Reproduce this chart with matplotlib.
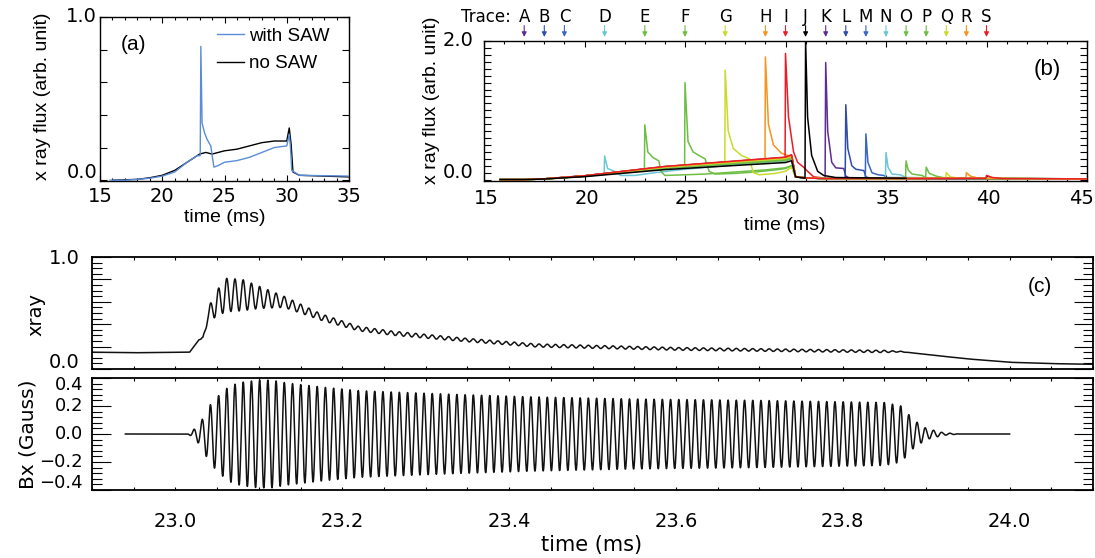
import numpy as np
import matplotlib
matplotlib.use("Agg")
import matplotlib.pyplot as plt
from matplotlib.ticker import MultipleLocator, NullFormatter
from matplotlib.transforms import ScaledTranslation

plt.rcParams['font.family'] = ['DejaVu Sans']

# ---------------- data: panel (a) ----------------
a_saw_t = [15.8, 17.0, 18.0, 19.0, 20.0, 21.0, 22.0, 22.8, 23.05, 23.1, 23.2, 23.4, 23.6, 23.9, 24.05,
           24.15, 24.5, 25.0, 26.0, 27.0, 28.0, 29.0, 30.0, 30.2, 30.3, 30.4, 31.0, 35.0]
a_saw_y = [0.0, 0.0, 0.005, 0.012, 0.025, 0.05, 0.11, 0.15, 0.15, 0.82, 0.35, 0.29, 0.25, 0.21, 0.13,
           0.08, 0.09, 0.11, 0.12, 0.14, 0.17, 0.20, 0.21, 0.28, 0.2, 0.06, 0.03, 0.025]
a_nosaw_t = [16.0, 18.0, 19.0, 20.0, 21.0, 22.0, 23.0, 23.5, 24.0, 25.0, 26.0, 27.0, 28.0, 29.0, 30.0,
             30.2, 30.35, 30.5, 31.0, 35.0]
a_nosaw_y = [0.0, 0.005, 0.015, 0.03, 0.06, 0.11, 0.16, 0.17, 0.16, 0.18, 0.19, 0.21, 0.23, 0.24, 0.24,
             0.32, 0.22, 0.05, 0.03, 0.02]

# ---------------- data: panel (b) ----------------
trace_names = list("ABCDEFGHIJKLMNOPQRS")
trace_times = [17, 18, 19, 21, 23, 25, 27, 29, 30, 31, 32, 33, 34, 35, 36, 37, 38, 39, 40]
trace_colors = ['#5E2D91', '#2E4DA7', '#3A66C4', '#6BC6D6', '#6DBE45', '#6DBE45', '#C9DB2A',
                '#F7941D', '#ED1C24', '#000000', '#5E2D91', '#2E4DA7', '#3A66C4', '#6BC6D6',
                '#6DBE45', '#6DBE45', '#C9DB2A', '#F7941D', '#ED1C24']
trace_ramp_scale = [1.0, 1.06, 1.1, 1.0, 1.0, 1.0, 1.0, 1.0, 1.08, 0.85, 1.04, 1.08, 1.1, 1.02,
                    0.95, 1.0, 1.05, 1.1, 1.12]
trace_end = [45, 45, 45, 45, 45, 45, 45, 45, 45, 36, 45, 45, 45, 45, 45, 45, 45, 45, 45]
b_xtick_vals = [15, 20, 25, 30, 35, 40, 45]

ramp_t = [15.8, 17, 18, 19, 20, 21, 22, 23, 24, 25, 26, 27, 28, 29, 30, 30.3]
ramp_y = [0.0, 0.0, 0.01, 0.03, 0.05, 0.08, 0.11, 0.14, 0.17, 0.19, 0.21, 0.23, 0.25, 0.27, 0.29, 0.32]
drop_t = [30.5, 31.0, 32.0]
drop_y = [0.04, 0.025, 0.015]
end_y = 0.01

spike_D = [(21.0, 0.34), (21.15, 0.16), (21.5, 0.12), (21.8, 0.06), (22.5, 0.06), (23.5, 0.10),
           (25.0, 0.15), (27.0, 0.20), (29.0, 0.25), (30.0, 0.27), (30.3, 0.30)]
spike_E = [(23.0, 0.79), (23.15, 0.40), (23.4, 0.32), (23.7, 0.27), (23.8, 0.12), (24.0, 0.06),
           (25.0, 0.07), (26.0, 0.08), (27.0, 0.10), (28.0, 0.12), (29.0, 0.14), (30.0, 0.17), (30.3, 0.20)]
spike_F = [(25.0, 1.40), (25.15, 0.55), (25.4, 0.40), (25.8, 0.33), (26.0, 0.30), (26.2, 0.12),
           (26.5, 0.08), (27.5, 0.09), (28.5, 0.11), (29.5, 0.14), (30.0, 0.16), (30.3, 0.20)]
spike_G = [(27.0, 1.58), (27.15, 0.70), (27.4, 0.45), (27.8, 0.35), (28.2, 0.30), (28.4, 0.10),
           (28.7, 0.07), (29.5, 0.09), (30.0, 0.12), (30.3, 0.18)]
spike_H = [(29.0, 1.77), (29.15, 0.80), (29.4, 0.50), (29.8, 0.38), (30.2, 0.34), (30.35, 0.30)]
spike_I = [(30.0, 1.82), (30.15, 0.90), (30.4, 0.40), (30.6, 0.25), (30.9, 0.18), (31.1, 0.12),
           (31.4, 0.04), (32.0, 0.02)]
spike_J = [(31.0, 2.0), (31.1, 0.90), (31.3, 0.35), (31.6, 0.12), (31.9, 0.06), (32.5, 0.03)]
spike_K = [(32.0, 1.69), (32.1, 0.70), (32.3, 0.25), (32.5, 0.17), (32.9, 0.16), (33.0, 0.05), (33.2, 0.02)]
spike_L = [(33.0, 1.08), (33.1, 0.45), (33.3, 0.20), (33.5, 0.15), (33.9, 0.13), (34.0, 0.04), (34.2, 0.02)]
spike_M = [(34.0, 0.66), (34.1, 0.25), (34.3, 0.10), (34.6, 0.07), (34.9, 0.06), (35.0, 0.03)]
spike_N = [(35.0, 0.39), (35.1, 0.18), (35.3, 0.08), (35.7, 0.07), (36.0, 0.03)]
spike_O = [(36.0, 0.27), (36.1, 0.14), (36.3, 0.08), (36.8, 0.06), (37.0, 0.02)]
spike_P = [(37.0, 0.18), (37.15, 0.09), (37.5, 0.05), (38.0, 0.02)]
spike_Q = [(38.0, 0.10), (38.2, 0.04), (38.6, 0.02)]
spike_R = [(39.0, 0.10), (39.2, 0.05), (39.6, 0.02)]
spike_S = [(40.0, 0.06), (40.3, 0.03), (40.8, 0.015)]
spikes = {'D': spike_D, 'E': spike_E, 'F': spike_F, 'G': spike_G, 'H': spike_H, 'I': spike_I,
          'J': spike_J, 'K': spike_K, 'L': spike_L, 'M': spike_M, 'N': spike_N, 'O': spike_O,
          'P': spike_P, 'Q': spike_Q, 'R': spike_R, 'S': spike_S}

# ---------------- data: panel (c) ----------------
osc_freq_khz = 101.5          # oscillation frequency
osc_t0 = 23.0
xray_mean_t = [22.9, 22.95, 23.0, 23.017, 23.022, 23.028, 23.033, 23.038, 23.045, 23.06, 23.08, 23.1,
               23.13, 23.176, 23.22, 23.26, 23.347, 23.433, 23.6, 23.75, 23.87, 23.9, 23.95, 24.0, 24.05, 24.1]
xray_mean_y = [0.15, 0.145, 0.15, 0.15, 0.2, 0.26, 0.27, 0.45, 0.55, 0.66, 0.66, 0.64,
               0.60, 0.46, 0.36, 0.32, 0.26, 0.21, 0.18, 0.165, 0.155, 0.13, 0.09, 0.06, 0.048, 0.042]
xray_amp_t = [22.9, 23.03, 23.035, 23.045, 23.06, 23.08, 23.1, 23.13, 23.17, 23.22, 23.35, 23.6, 23.85, 23.88, 24.1]
xray_amp_y = [0.0, 0.0, 0.03, 0.10, 0.15, 0.14, 0.10, 0.05, 0.03, 0.02, 0.015, 0.012, 0.01, 0.0, 0.0]

bx_env_t = [22.94, 23.015, 23.02, 23.03, 23.036, 23.043, 23.051, 23.06, 23.068, 23.08, 23.1, 23.115,
            23.133, 23.176, 23.22, 23.26, 23.35, 23.43, 23.55, 23.7, 23.85, 23.87, 23.885, 23.9, 23.92, 23.94, 24.0]
bx_env_amp = [0.0, 0.0, 0.02, 0.08, 0.15, 0.22, 0.27, 0.32, 0.35, 0.37, 0.385, 0.385,
              0.365, 0.335, 0.31, 0.30, 0.28, 0.265, 0.25, 0.24, 0.225, 0.20, 0.10, 0.04, 0.01, 0.0, 0.0]

# ---------------- figure ----------------
W, H = 1095, 558
fig = plt.figure(figsize=(W / 100, H / 100), dpi=100)


def px_axes(l, t, r, b):
    return fig.add_axes([l / W, 1 - b / H, (r - l) / W, (b - t) / H])


def ftext(x, y, s, **kw):
    fig.text(x / W, 1 - y / H, s, **kw)


def ylab(ax, vals, labels, pad_px, offs_px, size):
    for v, l, o in zip(vals, labels, offs_px):
        tr = ax.get_yaxis_transform() + ScaledTranslation(-pad_px / 100, o / 100, fig.dpi_scale_trans)
        ax.text(0, v, l, transform=tr, ha='right', va='center', fontsize=size)


def style(ax, lw):
    for s in ax.spines.values():
        s.set_linewidth(lw)
    ax.tick_params(which='both', direction='in', top=True, right=True, width=0.8)


# ---- panel (a)
axa = px_axes(100, 17, 349, 181)
style(axa, 1.0)
axa.plot(a_nosaw_t, a_nosaw_y, color='black', lw=1.0, label='no SAW', zorder=2)
axa.plot(a_saw_t, a_saw_y, color='#5A8DD8', lw=1.0, label='with SAW', zorder=3)
axa.set_xlim(15, 35)
axa.set_ylim(-0.005, 1.0)
axa.xaxis.set_major_locator(MultipleLocator(5))
axa.xaxis.set_minor_locator(MultipleLocator(1))
axa.yaxis.set_major_locator(MultipleLocator(0.2))
axa.yaxis.set_major_formatter(NullFormatter())
axa.tick_params(axis='x', which='major', length=4, labelsize=14, pad=4)
axa.tick_params(axis='x', which='minor', length=2)
axa.tick_params(axis='y', which='major', length=5)
ylab(axa, [0.0, 1.0], ['0.0', '1.0'], 3, [8, 0], 14)
h, l = axa.get_legend_handles_labels()
axa.legend(h[::-1], l[::-1], loc='upper left', bbox_to_anchor=(0.47, 0.935), frameon=False,
           prop={'family': 'Liberation Sans', 'size': 13.5}, handlelength=1.45, handletextpad=0.25,
           borderpad=0, borderaxespad=0, labelspacing=0.55)
ftext(134, 45, '(a)', fontsize=15, family='Liberation Sans', ha='center', va='center')
ftext(43, 96, 'x ray flux (arb. unit)', fontsize=14, family='Liberation Sans', rotation=90,
      ha='center', va='center')
ftext(225, 218, 'time (ms)', fontsize=14, family='Liberation Sans', ha='center', va='center')

# ---- panel (b)
axb = px_axes(484, 41, 1087, 181)
style(axb, 1.0)
for i, name in enumerate(trace_names):
    sc = trace_ramp_scale[i]
    ts = trace_times[i]
    rt = list(ramp_t)
    ry = [v * sc for v in ramp_y]
    if name not in spikes:
        pts = list(zip(rt, ry)) + list(zip(drop_t, drop_y))
    else:
        sp = spikes[name]
        if ts < 30.3:
            pts = [(t, y) for t, y in zip(rt, ry) if t < ts - 0.02]
            pts.append((ts - 0.02, float(np.interp(ts - 0.02, rt, ry))))
            pts += sp
        else:
            pts = list(zip(rt, ry)) + [(t, y) for t, y in zip(drop_t, drop_y) if t < ts - 0.05]
            pts.append((ts - 0.03, 0.02))
            pts += sp
        last = sp[-1][0]
        if last < 30.4:
            pts += list(zip(drop_t, drop_y))
        else:
            pts += [(t, y) for t, y in zip(drop_t, drop_y) if t > last]
    pts.append((trace_end[i], end_y if trace_end[i] == 45 else 0.02))
    xs, ys = zip(*pts)
    axb.plot(xs, ys, color=trace_colors[i], lw=1.1, zorder=5 if name == 'J' else 3)
    axb.annotate('', xy=(ts, 1.029), xytext=(ts, 1.11), xycoords=axb.get_xaxis_transform(),
                 textcoords=axb.get_xaxis_transform(), annotation_clip=False,
                 arrowprops=dict(arrowstyle='-|>', color=trace_colors[i], lw=0.8,
                                 mutation_scale=7, shrinkA=0, shrinkB=0))
    axb.text(ts, 1.175, name, transform=axb.get_xaxis_transform(), ha='center', va='center',
             fontsize=12, clip_on=False)
axb.text(16.35, 1.175, 'Trace:', transform=axb.get_xaxis_transform(), ha='right', va='center',
         fontsize=12, clip_on=False)
axb.set_xlim(15, 45)
axb.set_ylim(-0.02, 2.0)
axb.xaxis.set_major_locator(MultipleLocator(5))
axb.xaxis.set_minor_locator(MultipleLocator(1))
axb.xaxis.set_major_formatter(NullFormatter())
axb.yaxis.set_major_locator(MultipleLocator(0.1))
axb.yaxis.set_major_formatter(NullFormatter())
axb.tick_params(axis='x', which='major', length=4)
axb.tick_params(axis='x', which='minor', length=2)
axb.tick_params(axis='y', which='major', length=5)
for v in b_xtick_vals:
    dx = -6 if v == b_xtick_vals[-1] else 2
    tr = axb.get_xaxis_transform() + ScaledTranslation(dx / 100, -17 / 100, fig.dpi_scale_trans)
    axb.text(v, 0, str(v), transform=tr, ha='center', va='center', fontsize=14)
ylab(axb, [0.0, 2.0], ['0.0', '2.0'], 11, [7, 0], 14)
ftext(1047, 70, '(b)', fontsize=16, family='Liberation Sans', ha='center', va='center')
ftext(431, 100, 'x ray flux (arb. unit)', fontsize=14, family='Liberation Sans', rotation=90,
      ha='center', va='center')
ftext(785, 225, 'time (ms)', fontsize=14, family='Liberation Sans', ha='center', va='center')

# ---- panel (c)
axc1 = px_axes(92, 257, 1093, 369)
axc2 = px_axes(92, 378, 1093, 490)
w = 2 * np.pi * osc_freq_khz
t1 = np.linspace(22.9, 24.1, 20000)
x_mean = np.interp(t1, xray_mean_t, xray_mean_y)
x_amp = np.interp(t1, xray_amp_t, xray_amp_y)
axc1.plot(t1, x_mean + x_amp * np.sin(w * (t1 - osc_t0)), color='#111111', lw=1.1)
t2 = np.linspace(22.94, 24.0, 20000)
b_env = np.interp(t2, bx_env_t, bx_env_amp)
axc2.plot(t2, b_env * np.sin(w * (t2 - osc_t0)), color='#111111', lw=1.1)

for ax in (axc1, axc2):
    style(ax, 1.3)
    ax.set_xlim(22.9, 24.1)
    ax.xaxis.set_major_locator(MultipleLocator(0.2))
    ax.xaxis.set_minor_locator(MultipleLocator(0.05))
    ax.tick_params(axis='x', which='both', length=2.5)
    ax.tick_params(axis='y', which='major', length=14)
    ax.tick_params(axis='y', which='minor', length=7)
    ax.yaxis.set_major_formatter(NullFormatter())

axc1.set_ylim(0, 1.0)
axc1.yaxis.set_major_locator(MultipleLocator(0.2))
axc1.yaxis.set_minor_locator(MultipleLocator(0.05))
axc1.xaxis.set_major_formatter(NullFormatter())
ylab(axc1, [0.0, 1.0], ['0.0', '1.0'], 12, [6, -1], 14)

axc2.set_ylim(-0.4, 0.4)
axc2.yaxis.set_major_locator(MultipleLocator(0.2))
axc2.yaxis.set_minor_locator(MultipleLocator(0.04))
axc2.xaxis.set_major_formatter(plt.FuncFormatter(lambda v, p: f'{v:.1f}'))
axc2.tick_params(axis='x', which='major', labelsize=14, pad=16)
ylab(axc2, [-0.4, -0.2, 0.0, 0.2, 0.4], ['\u22120.4', '\u22120.2', '0.0', '0.2', '0.4'], 9,
     [7, 0, 0, 0, -7], 13)

ftext(1040, 286, '(c)', fontsize=15, family='Liberation Sans', ha='center', va='center')
ftext(36, 315, 'xray', fontsize=14, rotation=90, ha='center', va='center')
ftext(28, 434, 'Bx (Gauss)', fontsize=14.5, rotation=90, ha='center', va='center')
ftext(592, 545, 'time (ms)', fontsize=15, ha='center', va='center')

fig.savefig('out.png', dpi=100)
